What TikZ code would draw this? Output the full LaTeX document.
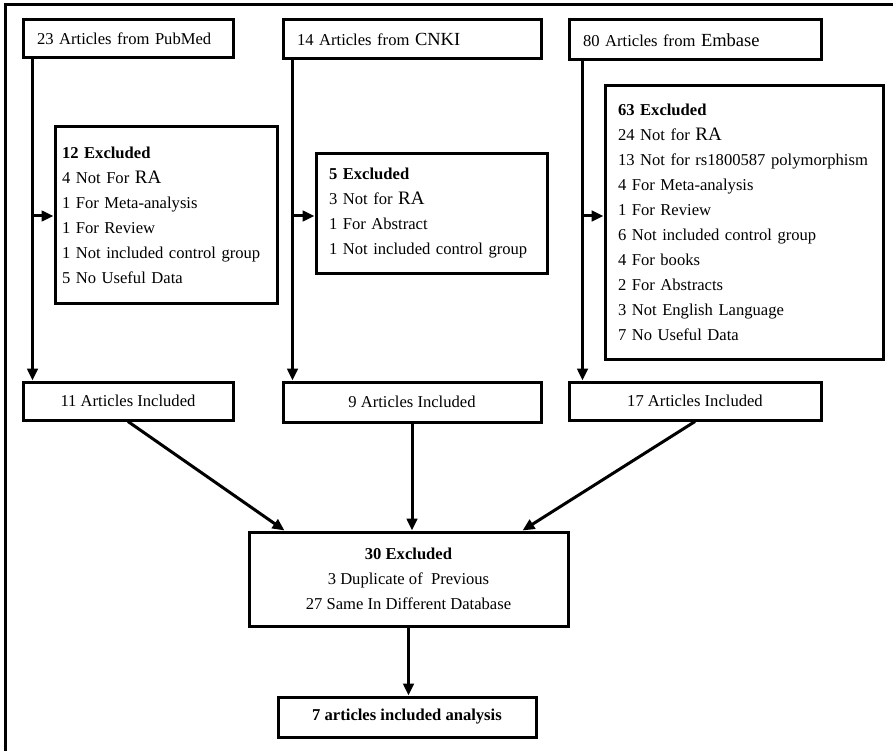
\documentclass[tikz,border=0pt]{standalone}
\usepackage{fontspec}
\setmainfont{Liberation Serif}
\usetikzlibrary{arrows.meta}
\newcommand{\bigra}{{\fontsize{19}{25}\selectfont RA}}
\newcommand{\bigw}[1]{{\fontsize{18.5}{25}\selectfont #1}}
\begin{document}
\begin{tikzpicture}[x=1pt,y=-1pt,
  every node/.style={font=\fontsize{16.6}{25}\selectfont},
  frame/.style={draw,line width=3pt,rectangle,inner ysep=0pt},
  leftbox/.style={frame,align=left},
  ctrbox/.style={frame,align=center},
  arr/.style={line width=3pt,-{Triangle[length=12pt,width=10.5pt]}}
]
\useasboundingbox (0,0) rectangle (893,751);
\draw[line width=3pt] (893,5) -- (5,5) -- (5,751);

% sources
\node[leftbox, text width=182pt, inner xsep=14pt, minimum height=38pt] (pub) at (128,39) {23 Articles from PubMed};
\node[leftbox, text width=230pt, inner xsep=14pt, minimum height=39pt] (cnki) at (412,39.5) {14 Articles from \bigw{CNKI}};
\node[leftbox, text width=224pt, inner xsep=14pt, minimum height=40pt] (emb) at (695,40) {80 Articles from \bigw{Embase}};

% exclusions
\node[leftbox, text width=208pt, inner xsep=7pt, minimum height=176pt] (ex1) at (166,215)
  {\textbf{12 Excluded}\\4 Not For \bigra\\1 For Meta-analysis\\1 For Review\\1 Not included control group\\5 No Useful Data};
\node[leftbox, text width=205pt, inner xsep=13pt, minimum height=119pt] (ex2) at (431.5,213.5)
  {\textbf{5 Excluded}\\3 Not for \bigra\\1 For Abstract\\1 Not included control group};
\node[leftbox, text width=252pt, inner xsep=13pt, minimum height=273pt] (ex3) at (744,222.5)
  {\textbf{63 Excluded}\\24 Not for \bigra\\13 Not for rs1800587 polymorphism\\4 For Meta-analysis\\1 For Review\\6 Not included control group\\4 For books\\2 For Abstracts\\3 Not English Language\\7 No Useful Data};

% included
\node[ctrbox, minimum width=210pt, minimum height=38pt] (inc1) at (128,401) {11 Articles Included};
\node[ctrbox, minimum width=258pt, minimum height=40pt] (inc2) at (412,402) {9 Articles Included};
\node[ctrbox, minimum width=252pt, minimum height=38pt] (inc3) at (695,401) {17 Articles Included};

% merge
\node[ctrbox, minimum width=319pt, minimum height=94pt] (mid) at (408.5,579)
  {\textbf{30 Excluded}\\3 Duplicate of~~Previous\\27 Same In Different Database};
\node[ctrbox, minimum width=258pt, minimum height=40pt] (fin) at (407,717) {\textbf{7 articles included analysis}};

% connectors
\coordinate (p1) at ([xshift=11pt]pub.south west);
\coordinate (p2) at ([xshift=11pt]cnki.south west);
\coordinate (p3) at ([xshift=15pt]emb.south west);
\coordinate (e1) at ([yshift=-1pt]ex1.west);
\coordinate (e2) at ([yshift=-2.5pt]ex2.west);
\coordinate (e3) at ([yshift=6.5pt]ex3.west);

\draw[arr] (p1) -- (p1 |- inc1.north);
\draw[arr] (p2) -- (p2 |- inc2.north);
\draw[arr] (p3) -- (p3 |- inc3.north);
\draw[arr] (e1 -| p1) -- (e1);
\draw[arr] (e2 -| p2) -- (e2);
\draw[arr] (e3 -| p3) -- (e3);

\draw[arr] (inc1.south) -- ([xshift=37pt]mid.north west);
\draw[arr] (inc2.south) -- (inc2.south |- mid.north);
\draw[arr] (inc3.south) -- ([xshift=-47pt]mid.north east);
\draw[arr] (mid.south) -- (mid.south |- fin.north);
\end{tikzpicture}
\end{document}
